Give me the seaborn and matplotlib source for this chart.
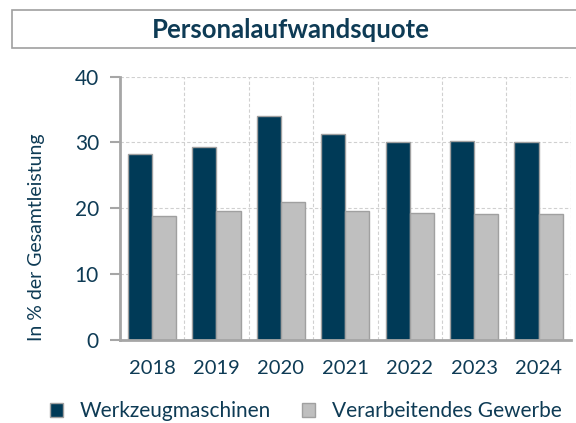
import pandas as pd
import matplotlib.pyplot as plt
import seaborn as sns
from matplotlib.patches import Rectangle

years = ["2018", "2019", "2020", "2021", "2022", "2023", "2024"]
werkzeug = [28.3, 29.3, 34.0, 31.3, 30.1, 30.2, 30.0]
gewerbe = [18.9, 19.6, 20.9, 19.6, 19.3, 19.2, 19.2]
series = ["Werkzeugmaschinen", "Verarbeitendes Gewerbe"]

dark = "#003A57"
light = "#BFBFBF"
text_col = "#0E3B55"
axis_col = "#A6A6A6"

df = pd.DataFrame({
    "Jahr": years * 2,
    "Wert": werkzeug + gewerbe,
    "Reihe": [series[0]] * len(years) + [series[1]] * len(years),
})

sns.set_style("white")
plt.rcParams["font.family"] = ["Lato", "DejaVu Sans"]

fig = plt.figure(figsize=(5.76, 4.23), dpi=100)
ax = fig.add_axes([0.208, 0.196, 0.783, 0.623])

sns.barplot(data=df, x="Jahr", y="Wert", hue="Reihe", order=years,
            hue_order=series, palette=[dark, light], width=0.75,
            edgecolor="#A0A0A0", linewidth=1.0, saturation=1, ax=ax)

ax.set_xlim(-0.5, len(years) - 0.5)
ax.set_ylim(0, 40)
ax.set_yticks([0, 10, 20, 30, 40])
ax.set_xticks([i - 0.5 for i in range(len(years) + 1)], minor=True)
ax.tick_params(axis="x", which="major", length=0, pad=14,
               labelsize=14.5, labelcolor=text_col)
ax.tick_params(axis="x", which="minor", length=6, width=1.5, color=axis_col,
               direction="out")
ax.tick_params(axis="y", length=7, width=1.5, color=axis_col, pad=8,
               labelsize=15, labelcolor=text_col, left=True)
ax.grid(axis="y", which="major", color="#D0D0D0", linestyle=(0, (3, 2)), lw=0.8)
ax.grid(axis="x", which="minor", color="#D0D0D0", linestyle=(0, (3, 2)), lw=0.8)
ax.set_axisbelow(True)

for s in ["top", "right"]:
    ax.spines[s].set_visible(False)
for s in ["left", "bottom"]:
    ax.spines[s].set_color(axis_col)
    ax.spines[s].set_linewidth(2)

ax.set_xlabel("")
ax.set_ylabel("In % der Gesamtleistung", fontsize=14, color=text_col)
ax.yaxis.set_label_coords(-0.165, 0.39)

handles, labels = ax.get_legend_handles_labels()
ax.legend(handles, labels, loc="center", bbox_to_anchor=(0.531, 0.028),
          bbox_transform=fig.transFigure, ncol=2, frameon=False,
          fontsize=15, labelcolor=text_col, handlelength=0.63,
          handleheight=0.63, columnspacing=1.5, handletextpad=0.82,
          borderpad=0.2)

fig.patches.append(Rectangle((0.021, 0.887), 1.0, 0.09, transform=fig.transFigure,
                             facecolor="white", edgecolor="#A0A0A0", lw=1.2))
fig.text(0.505, 0.93, "Personalaufwandsquote", ha="center", va="center",
         fontsize=18.5, fontweight="bold", color=text_col)

fig.savefig("out.png", dpi=100)
